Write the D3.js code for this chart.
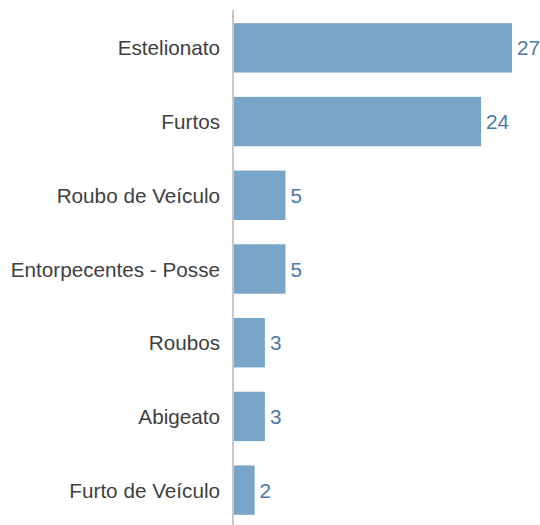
<!DOCTYPE html>
<html>
<head>
<meta charset="utf-8">
<script src="https://cdn.jsdelivr.net/npm/d3@7/dist/d3.min.js"></script>
<style>
  html, body { margin: 0; padding: 0; background: #fff; }
  svg { display: block; }
</style>
</head>
<body>
<svg id="chart" width="540" height="525"></svg>
<script>
// Ocorrências por tipo de crime
const categories = ["Estelionato", "Furtos", "Roubo de Veículo", "Entorpecentes - Posse", "Roubos", "Abigeato", "Furto de Veículo"];
const values = [27, 24, 5, 5, 3, 3, 2];

const svg = d3.select("#chart");
const axisX = 234;
const fontFamily = "'Liberation Sans', Arial, sans-serif";

const x = d3.scaleLinear().domain([0, 27]).range([axisX, 512]);
const y = d3.scaleBand()
  .domain(categories)
  .range([11, 527])
  .paddingInner(0.33)
  .paddingOuter(0.165);

const data = categories.map((c, i) => ({ cat: c, val: values[i] }));

// bars
svg.append("g").selectAll("rect")
  .data(data)
  .join("rect")
  .attr("x", x(0))
  .attr("y", d => y(d.cat))
  .attr("width", d => x(d.val) - x(0))
  .attr("height", y.bandwidth())
  .attr("fill", "#78a5c8");

// vertical category axis line
svg.append("line")
  .attr("x1", axisX - 1).attr("x2", axisX - 1)
  .attr("y1", 10).attr("y2", 525)
  .attr("stroke", "#c8c8c8")
  .attr("stroke-width", 2);

// category labels
svg.append("g").selectAll("text")
  .data(data)
  .join("text")
  .attr("x", axisX - 14)
  .attr("y", d => y(d.cat) + y.bandwidth() / 2)
  .attr("text-anchor", "end")
  .attr("dominant-baseline", "central")
  .attr("font-family", fontFamily)
  .attr("font-size", 20.7)
  .attr("fill", "#404040")
  .text(d => d.cat);

// value labels
svg.append("g").selectAll("text")
  .data(data)
  .join("text")
  .attr("x", d => x(d.val) + 5)
  .attr("y", d => y(d.cat) + y.bandwidth() / 2)
  .attr("dominant-baseline", "central")
  .attr("font-family", fontFamily)
  .attr("font-size", 20.7)
  .attr("fill", "#4a7aa8")
  .text(d => d.val);
</script>
</body>
</html>
